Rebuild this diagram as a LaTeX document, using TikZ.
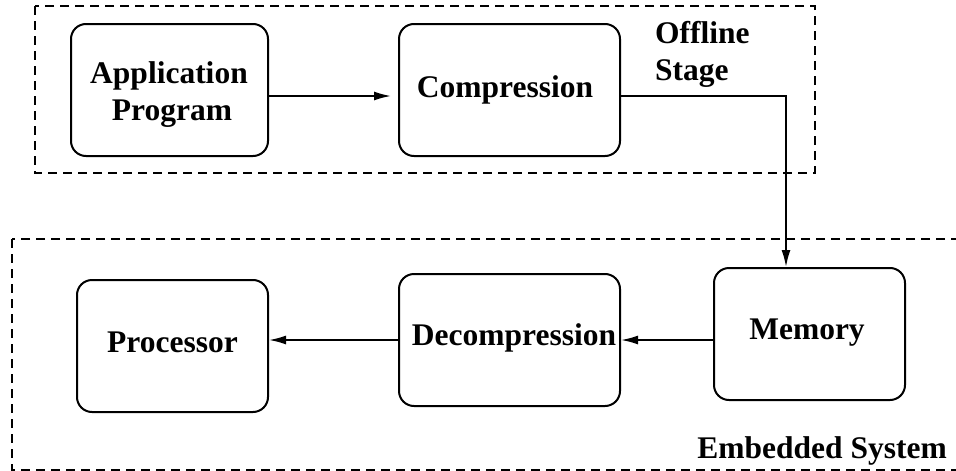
\documentclass[tikz,border=0pt]{standalone}
\usepackage{fontspec}
\setmainfont{Liberation Serif}
\usetikzlibrary{arrows.meta}
\begin{document}
\begin{tikzpicture}[x=1pt,y=-1pt,
  blk/.style={draw,line width=2pt,rounded corners=15pt,inner sep=0pt},
  txt/.style={font=\fontsize{31.5}{37}\selectfont\bfseries,inner sep=0pt,align=center},
  frame/.style={draw,line width=1.8pt,dash pattern=on 9pt off 6pt},
  arr/.style={line width=1.8pt,-{Latex[length=17pt,width=9pt]}}]
\useasboundingbox (0,0) rectangle (956,471);
\clip (0,0) rectangle (956,471);
% stage frames
\draw[frame] (35,6) rectangle (815,173);
\draw[frame] (12,239) rectangle (975,470);
% blocks
\node[blk,minimum width=197pt,minimum height=132pt] (app) at (169.5,90) {};
\node[blk,minimum width=221pt,minimum height=132pt] (comp) at (509.5,90) {};
\node[blk,minimum width=191pt,minimum height=132pt] (proc) at (172.5,346) {};
\node[blk,minimum width=221pt,minimum height=132pt] (decomp) at (509.5,340) {};
\node[blk,minimum width=191pt,minimum height=132pt] (mem) at (809.5,334) {};
% block labels
\node[txt,anchor=base] (tapp1) at (169,83) {Application};
\node[txt,anchor=base] (tapp2) at (172,120) {Program};
\node[txt,anchor=base] (tcomp) at (505,97) {Compression};
\node[txt,anchor=base] (tproc) at (172.5,352) {Processor};
\node[txt,anchor=base] (tdec) at (514,345) {Decompression};
\node[txt,anchor=base] (tmem) at (807,339) {Memory};
% stage labels
\node[txt,anchor=base west] (toff1) at (655,43) {Offline};
\node[txt,anchor=base west] (toff2) at (655,80) {Stage};
\node[txt,anchor=base east] (temb) at (947,458) {Embedded System};
% connectors
\draw[arr,shorten >=7pt] ([yshift=-6pt]app.east) -- ([yshift=-6pt]comp.west);
\coordinate (bend) at (786,96);
\draw[arr] ([yshift=-6pt]comp.east) -- (bend) -- (bend |- mem.north);
\draw[arr] (mem.west |- decomp.east) -- (decomp.east);
\draw[arr] (decomp.west) -- (proc.east |- decomp.west);
\end{tikzpicture}
\end{document}
